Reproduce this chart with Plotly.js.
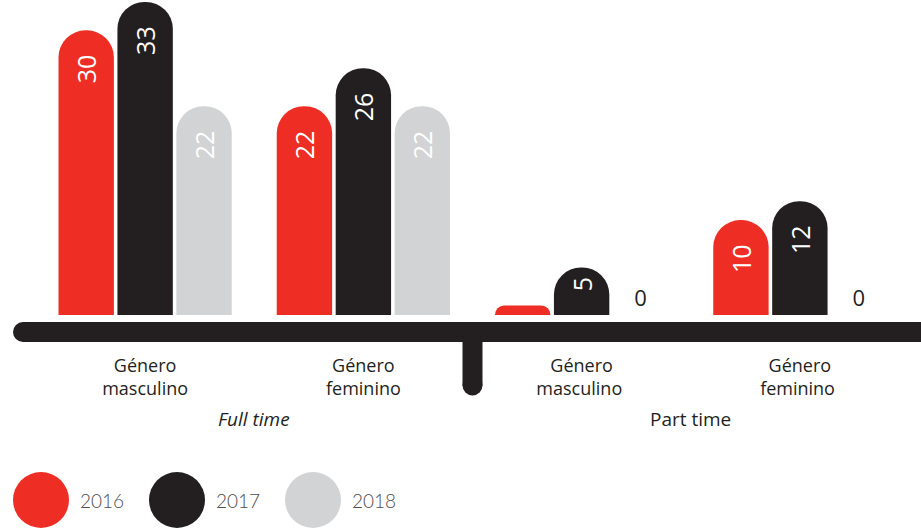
<!DOCTYPE html>
<html>
<head>
<meta charset="utf-8">
<script src="https://cdn.plot.ly/plotly-3.0.1.min.js"></script>
<style>html,body{margin:0;padding:0;background:#fff;}#chart{width:921px;height:528px;}</style>
</head>
<body>
<div id="chart"></div>
<script>
// ---- data ----
const categories = ["Género<br>masculino", "Género<br>feminino", "Género<br>masculino ", "Género<br>feminino "];
const groupLabels = ["<i>Full time</i>", "Part time"];
const years = ["2016", "2017", "2018"];
const values2016 = [30, 22, 1, 10];
const values2017 = [33, 26, 5, 12];
const values2018 = [22, 22, 0, 0];
const colors = ["#EE2E24", "#231F20", "#D1D3D4"];

// ---- layout geometry (pixels) ----
const W = 921, H = 528;
const M = {l: 36, r: 12, t: 0, b: 213};
const PW = W - M.l - M.r, PH = H - M.t - M.b;
const px = x => (x - M.l) / PW;
const py = y => (H - M.b - y) / PH;

const FONT = "'Open Sans', 'DejaVu Sans', sans-serif";
const DARK = "#231F20";
// keeps the value label clear of the rounded top on bars tall enough for it
const labelFor = v => String(v) + (v >= 10 ? "\u2002\u200A" : "");

const series = [values2016, values2017, values2018];
const traces = [];
series.forEach((vals, i) => {
  traces.push({
    type: "bar",
    name: years[i],
    x: categories,
    y: vals.map(v => v === 0 ? null : v),
    text: vals.map(v => v === 0 ? "" : labelFor(v)),
    offsetgroup: years[i],
    marker: {color: colors[i], cornerradius: "50%", line: {width: 0}},
    textposition: "inside",
    insidetextanchor: "end",
    textangle: -90,
    constraintext: "none",
    textfont: {family: FONT, size: 25, color: "#FFFFFF", weight: 500},
    cliponaxis: false,
    hoverinfo: "skip",
    showlegend: false
  });
  if (vals.some(v => v === 0)) {
    traces.push({
      type: "bar",
      name: years[i] + " zero",
      x: categories,
      y: vals.map(v => v === 0 ? 0 : null),
      text: vals.map(v => v === 0 ? "0" : ""),
      offsetgroup: years[i],
      marker: {color: colors[i]},
      textposition: "outside",
      textangle: 0,
      constraintext: "none",
      textfont: {family: FONT, size: 22, color: DARK},
      cliponaxis: false,
      hoverinfo: "skip",
      showlegend: false
    });
  }
});

const shapes = [];
// baseline bar with rounded left end
shapes.push({type: "rect", xref: "paper", yref: "paper", x0: px(23), x1: px(935), y0: py(322), y1: py(342), fillcolor: DARK, line: {width: 0}, layer: "above"});
shapes.push({type: "circle", xref: "paper", yref: "paper", x0: px(13), x1: px(33), y0: py(322), y1: py(342), fillcolor: DARK, line: {width: 0}, layer: "above"});
// divider between Full time and Part time
shapes.push({type: "rect", xref: "paper", yref: "paper", x0: px(462.5), x1: px(482.5), y0: py(332), y1: py(385.5), fillcolor: DARK, line: {width: 0}, layer: "above"});
shapes.push({type: "circle", xref: "paper", yref: "paper", x0: px(462.5), x1: px(482.5), y0: py(375.5), y1: py(395.5), fillcolor: DARK, line: {width: 0}, layer: "above"});

const annotations = [];
// group labels
[0.5, 2.5].forEach((xc, i) => {
  annotations.push({xref: "x", yref: "paper", x: xc, y: py(419), text: groupLabels[i], showarrow: false,
    xanchor: "center", yanchor: "middle", font: {family: FONT, size: 19, color: DARK}});
});
// legend: big circles + labels
const legendCx = [41, 177, 313];
years.forEach((yr, i) => {
  const cx = legendCx[i];
  shapes.push({type: "circle", xref: "paper", yref: "paper", x0: px(cx - 28), x1: px(cx + 28), y0: py(472), y1: py(528), fillcolor: colors[i], line: {width: 0}});
  annotations.push({xref: "paper", yref: "paper", x: px(cx + 37), y: py(500), text: yr, showarrow: false,
    xanchor: "left", yanchor: "middle", font: {family: "Lato, " + FONT, size: 19, color: "#4D4D4F", weight: 300}});
});

const layout = {
  width: W, height: H,
  margin: M,
  paper_bgcolor: "#FFFFFF", plot_bgcolor: "#FFFFFF",
  barmode: "group",
  bargap: 0.19,
  bargroupgap: 0.06,
  showlegend: false,
  xaxis: {
    type: "category", range: [-0.5, 3.5], fixedrange: true,
    showgrid: false, zeroline: false, showline: false, ticks: "",
    ticklabelstandoff: 38,
    tickfont: {family: FONT, size: 18, color: DARK}
  },
  yaxis: {
    range: [0, 33.2], visible: false, fixedrange: true,
    showgrid: false, zeroline: false
  },
  shapes: shapes,
  annotations: annotations,
  font: {family: FONT}
};

Plotly.newPlot("chart", traces, layout, {displayModeBar: false, staticPlot: true});
</script>
</body>
</html>
